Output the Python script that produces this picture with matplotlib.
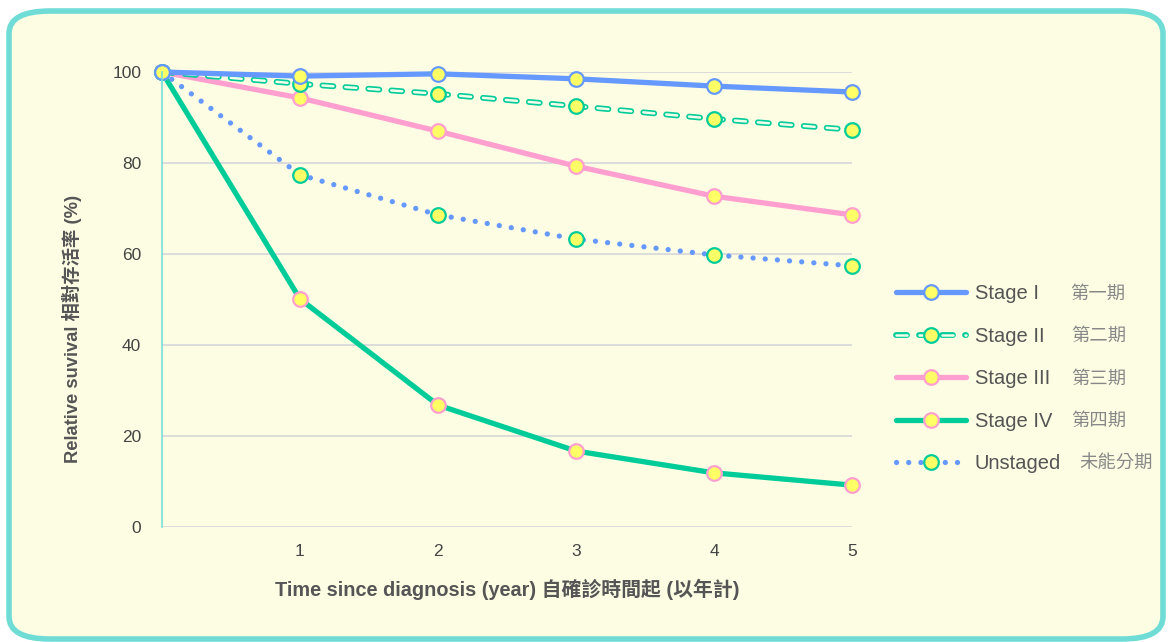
import matplotlib
matplotlib.use("Agg")
import matplotlib.pyplot as plt
import matplotlib.patheffects as pe
from matplotlib.patches import FancyBboxPatch

years = [0, 1, 2, 3, 4, 5]
stage1 = [100, 99.1, 99.6, 98.5, 96.9, 95.6]
stage2 = [100, 97.4, 95.2, 92.5, 89.7, 87.3]
stage3 = [100, 94.3, 87.0, 79.3, 72.7, 68.6]
stage4 = [100, 50.1, 26.8, 16.7, 11.9, 9.2]
unstaged = [100, 77.4, 68.6, 63.3, 59.8, 57.4]

labels_en = ["Stage I", "Stage II", "Stage III", "Stage IV", "Unstaged"]
labels_zh = ["第一期", "第二期", "第三期", "第四期", "未能分期"]

BG = "#fdfde4"
BLUE = "#6699ff"
GREEN = "#00cc99"
PINK = "#ff9fd0"
YELLOW = "#ffff66"
FONT = ["Liberation Sans", "Noto Sans CJK TC"]

plt.rcParams["font.family"] = FONT

fig = plt.figure(figsize=(11.72, 6.42), dpi=100)
fig.patch.set_facecolor("white")
fig.patches.append(FancyBboxPatch((9 / 1172, 3 / 642), 1154 / 1172, 628 / 642,
                                  boxstyle="round,pad=0,rounding_size=0.035",
                                  transform=fig.transFigure, facecolor=BG,
                                  edgecolor="#6fdcd6", linewidth=4, zorder=-10))

ax = fig.add_axes([162 / 1172, 115 / 642, 690 / 1172, 455 / 642])
ax.set_facecolor("none")
ax.set_xlim(0, 5)
ax.set_ylim(0, 100)
for s in ["top", "right", "bottom"]:
    ax.spines[s].set_visible(False)
ax.spines["left"].set_color("#7adfd8")
ax.spines["left"].set_linewidth(1.2)
ax.set_yticks([0, 20, 40, 60, 80, 100])
ax.set_xticks([1, 2, 3, 4, 5])
ax.yaxis.grid(True, color="#d9d9d9", linewidth=1.3)
ax.set_axisbelow(True)
ax.tick_params(length=0, labelsize=12.5, labelcolor="#444444")
ax.tick_params(axis="y", pad=15)
ax.tick_params(axis="x", pad=12)

mk = dict(marker="o", markersize=10.5, markerfacecolor=YELLOW, markeredgewidth=1.6,
          clip_on=False)

l4, = ax.plot(years, stage4, color=GREEN, lw=3.8, markeredgecolor=PINK,
              solid_capstyle="round", **mk)
lu, = ax.plot(years, unstaged, color=BLUE, lw=3.8, linestyle=(0, (0.01, 2.3)),
              dash_capstyle="round", markeredgecolor=GREEN, **mk)
l3, = ax.plot(years, stage3, color=PINK, lw=3.8, markeredgecolor=PINK,
              solid_capstyle="round", **mk)
l2a, = ax.plot(years, stage2, color="#f2fdea", lw=1.8, linestyle=(0, (4.4, 4.8)),
               dash_capstyle="round", clip_on=False,
               path_effects=[pe.Stroke(linewidth=4.2, foreground=GREEN), pe.Normal()])
l2b, = ax.plot(years, stage2, linestyle="none", markeredgecolor=GREEN, **mk)
l1, = ax.plot(years, stage1, color=BLUE, lw=3.8, markeredgecolor=BLUE,
              solid_capstyle="round", **mk)

ax.set_ylabel("Relative suvival 相對存活率 (%)", fontsize=13.2, fontweight="bold",
              color="#555555")
ax.yaxis.set_label_coords(-0.13, 0.435)
ax.set_xlabel("Time since diagnosis (year) 自確診時間起 (以年計)", fontsize=14.3,
              fontweight="bold", color="#555555")
ax.xaxis.set_label_coords(0.5, -0.136)
ax.xaxis.label.set_va("center")
ax.yaxis.label.set_va("center")

handles = [l1, (l2a, l2b), l3, l4, lu]
leg = ax.legend(handles, labels_en, loc="upper left",
                bbox_to_anchor=(896 / 1172, 1 - 284 / 642), bbox_transform=fig.transFigure,
                frameon=False, fontsize=14.5, handlelength=3.5, handletextpad=0.4,
                labelspacing=1.17, borderaxespad=0, borderpad=0)
for t in leg.get_texts():
    t.set_color("#555555")

zh_x = [1070, 1071, 1071, 1071, 1079]
zh_y = [294, 336, 379, 421, 464]
for lab, x, y in zip(labels_zh, zh_x, zh_y):
    fig.text(x / 1172, 1 - y / 642, lab, fontsize=13.2, color="#888888",
             ha="left", va="center", family=["Noto Sans CJK TC", "DejaVu Sans"])

fig.savefig("out.png", dpi=100, facecolor=fig.get_facecolor())
